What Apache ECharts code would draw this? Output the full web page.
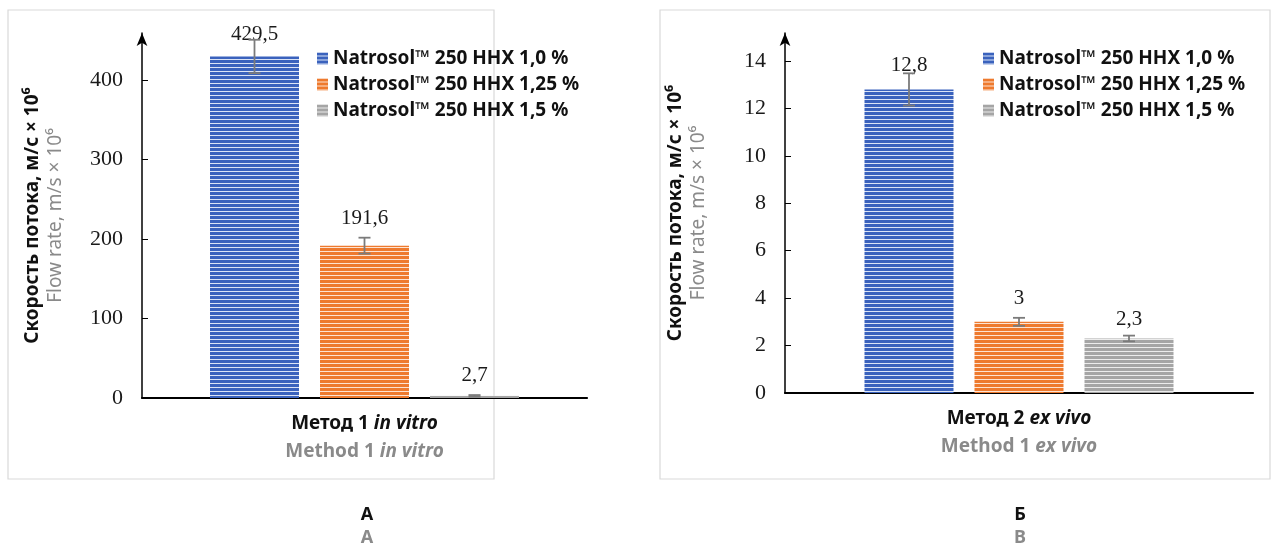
<!DOCTYPE html>
<html>
<head>
<meta charset="utf-8">
<script src="https://cdn.jsdelivr.net/npm/echarts@6/dist/echarts.min.js"></script>
<style>
	html, body { margin: 0; padding: 0; background: #fff; }
	#chart { width: 1276px; height: 547px; }
</style>
</head>
<body>
<div id="chart"></div>
<script>
	// данные
	var seriesNames = ['Natrosol™ 250 HHX 1,0 %', 'Natrosol™ 250 HHX 1,25 %', 'Natrosol™ 250 HHX 1,5 %'];
	var leftCategory = ['Метод 1 in vitro'];
	var rightCategory = ['Метод 2 ex vivo'];
	var leftValues = [429.5, 191.6, 2.7];
	var leftErrors = [21, 10, 1];
	var rightValues = [12.8, 3, 2.3];
	var rightErrors = [0.68, 0.17, 0.12];
	var leftTicks = [0, 100, 200, 300, 400];
	var rightTicks = [0, 2, 4, 6, 8, 10, 12, 14];

	var colors = ['#3a62bd', '#ee7a2e', '#a5a5a5'];
	var lineColors = ['#dbe4f6', '#fde3d2', '#ececec'];

	function stripes(c, l) {
		var cv = document.createElement('canvas');
		cv.width = 4;
		cv.height = 4;
		var ctx = cv.getContext('2d');
		ctx.fillStyle = c;
		ctx.fillRect(0, 0, 4, 4);
		ctx.fillStyle = l;
		ctx.fillRect(0, 3, 4, 1);
		return cv;
	}
	var patterns = colors.map(function(c, i) {
		return { image: stripes(c, lineColors[i]), repeat: 'repeat' };
	});

	var barW = 89;
	var gapPx = 21;

	function makeBars(values, idx, distances) {
		return values.map(function(v, i) {
			return {
				name: seriesNames[i],
				type: 'bar',
				xAxisIndex: idx,
				yAxisIndex: idx,
				barWidth: barW,
				barGap: (gapPx / barW * 100) + '%',
				data: [v],
				itemStyle: { color: patterns[i] },
				label: {
					show: true,
					position: 'top',
					distance: distances[i],
					fontFamily: 'Liberation Serif',
					fontSize: 21,
					color: '#1a1a1a',
					formatter: function(p) {
						return String(p.value).replace('.', ',');
					}
				}
			};
		});
	}

	function makeErrors(values, errors, idx) {
		return {
			type: 'custom',
			xAxisIndex: idx,
			yAxisIndex: idx,
			z: 10,
			silent: true,
			data: values.map(function(v, i) { return [0, v, errors[i], i]; }),
			renderItem: function(params, api) {
				var base = api.coord([0, 0]);
				var cx = base[0] + (api.value(3) - 1) * (barW + gapPx);
				var v = api.value(1), e = api.value(2);
				var top = api.coord([0, v + e])[1];
				var bot = api.coord([0, v - e])[1];
				var st = { stroke: '#7b7b7b', lineWidth: 1.8 };
				return {
					type: 'group',
					children: [
						{ type: 'line', shape: { x1: cx, y1: top, x2: cx, y2: bot }, style: st },
						{ type: 'line', shape: { x1: cx - 6, y1: top, x2: cx + 6, y2: top }, style: st },
						{ type: 'line', shape: { x1: cx - 6, y1: bot, x2: cx + 6, y2: bot }, style: st }
					]
				};
			}
		};
	}

	function catLabel(v) {
		var p = v.split(' ');
		return '{b|' + p[0] + ' ' + p[1] + ' }{bi|' + p[2] + ' ' + p[3] + '}\n' +
			'{g|Method 1 }{gi|' + p[2] + ' ' + p[3] + '}';
	}

	var sansBold = { fontFamily: 'Noto Sans', fontWeight: 'bold', fontSize: 19, color: '#111' };
	var richCat = {
		b: { fontFamily: 'Noto Sans', fontWeight: 'bold', fontSize: 19, color: '#111', lineHeight: 28 },
		bi: { fontFamily: 'Noto Sans', fontWeight: 'bold', fontStyle: 'italic', fontSize: 19, color: '#111', lineHeight: 28 },
		g: { fontFamily: 'Noto Sans', fontWeight: 'bold', fontSize: 19, color: '#8a8a8a', lineHeight: 28 },
		gi: { fontFamily: 'Noto Sans', fontWeight: 'bold', fontStyle: 'italic', fontSize: 19, color: '#8a8a8a', lineHeight: 28 }
	};
	var richName = {
		t: { fontFamily: 'Noto Sans', fontWeight: 'bold', fontSize: 19, color: '#111', lineHeight: 23 },
		s: { fontFamily: 'Noto Sans', fontSize: 19, color: '#8a8a8a', lineHeight: 23 }
	};
	var yName = '{t|Скорость потока, м/с × 10⁶}\n{s|Flow rate, m/s × 10⁶}';

	function xAxisCfg(idx, cats) {
		return {
			type: 'category',
			gridIndex: idx,
			data: cats,
			axisTick: { show: false },
			axisLine: { lineStyle: { color: '#000', width: 2.2 } },
			axisLabel: { margin: 12, formatter: catLabel, rich: richCat }
		};
	}

	function yAxisCfg(idx, max, ticks) {
		return {
			type: 'value',
			gridIndex: idx,
			min: 0,
			max: max,
			name: yName,
			nameLocation: 'middle',
			nameRotate: 90,
			nameGap: 75,
			nameTextStyle: { rich: richName },
			splitLine: { show: false },
			axisLine: {
				show: true,
				symbol: ['none', 'arrow'],
				symbolSize: [8, 13],
				lineStyle: { color: '#000', width: 1.5 }
			},
			axisTick: { show: true, inside: true, length: 6, customValues: ticks, lineStyle: { color: '#000' } },
			axisLabel: {
				customValues: ticks,
				margin: 19,
				fontFamily: 'Liberation Serif',
				fontSize: 22,
				color: '#1a1a1a'
			}
		};
	}

	function legendCfg(left) {
		return {
			left: left,
			top: 44,
			orient: 'vertical',
			data: seriesNames,
			icon: 'rect',
			itemWidth: 11,
			itemHeight: 12,
			itemGap: 7,
			selectedMode: false,
			textStyle: sansBold
		};
	}

	var chart = echarts.init(document.getElementById('chart'));
	var option = {
		animation: false,
		graphic: [
			{ type: 'rect', shape: { x: 8, y: 10, width: 486, height: 469 }, style: { fill: 'none', stroke: '#d9d9d9', lineWidth: 1.2 } },
			{ type: 'rect', shape: { x: 660, y: 10, width: 610, height: 469 }, style: { fill: 'none', stroke: '#d9d9d9', lineWidth: 1.2 } },
			{ type: 'text', x: 367, y: 515, style: { text: 'А', fontFamily: 'Noto Sans', fontWeight: 'bold', fontSize: 18, fill: '#111', align: 'center', verticalAlign: 'middle' } },
			{ type: 'text', x: 367, y: 538, style: { text: 'А', fontFamily: 'Noto Sans', fontWeight: 'bold', fontSize: 18, fill: '#8a8a8a', align: 'center', verticalAlign: 'middle' } },
			{ type: 'text', x: 1020, y: 515, style: { text: 'Б', fontFamily: 'Noto Sans', fontWeight: 'bold', fontSize: 18, fill: '#111', align: 'center', verticalAlign: 'middle' } },
			{ type: 'text', x: 1020, y: 538, style: { text: 'В', fontFamily: 'Noto Sans', fontWeight: 'bold', fontSize: 18, fill: '#8a8a8a', align: 'center', verticalAlign: 'middle' } }
		],
		legend: [legendCfg(312), legendCfg(978)],
		grid: [
			{ left: 142, top: 33, width: 445, bottom: 149 },
			{ left: 785, top: 33, width: 468, bottom: 154 }
		],
		xAxis: [xAxisCfg(0, leftCategory), xAxisCfg(1, rightCategory)],
		yAxis: [yAxisCfg(0, 459, leftTicks), yAxisCfg(1, 15.18, rightTicks)],
		series: []
			.concat(makeBars(leftValues, 0, [11, 17, 10]))
			.concat(makeBars(rightValues, 1, [13, 13, 8]))
			.concat([makeErrors(leftValues, leftErrors, 0), makeErrors(rightValues, rightErrors, 1)])
	};
	chart.setOption(option);
</script>
</body>
</html>
